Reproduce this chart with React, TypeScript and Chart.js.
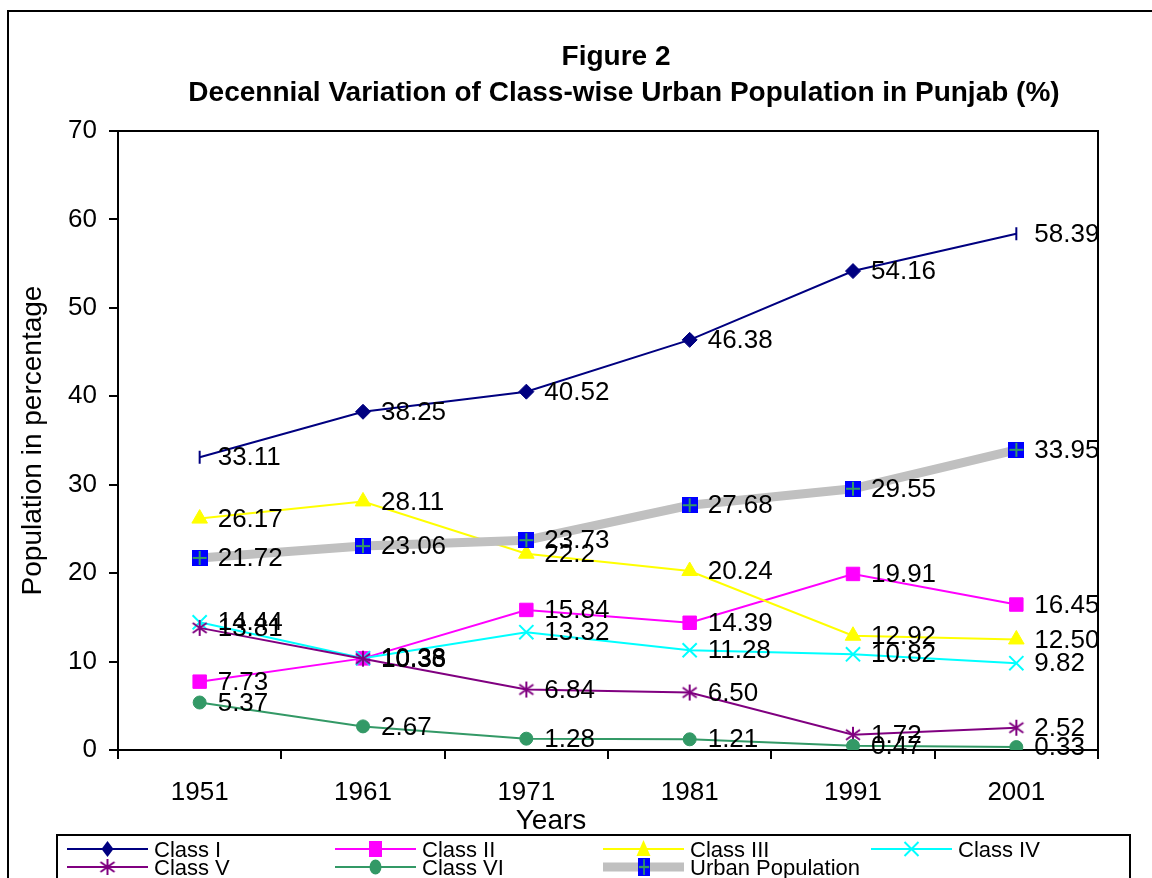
import React, { useEffect, useRef } from "react";
import { Chart, registerables } from "chart.js";

Chart.register(...registerables);

// ---------- data ----------
const years = ["1951", "1961", "1971", "1981", "1991", "2001"];
const classI = ["33.11", "38.25", "40.52", "46.38", "54.16", "58.39"];
const classII = ["7.73", "10.36", "15.84", "14.39", "19.91", "16.45"];
const classIII = ["26.17", "28.11", "22.2", "20.24", "12.92", "12.50"];
const classIV = ["14.44", "10.38", "13.32", "11.28", "10.82", "9.82"];
const classV = ["13.81", "10.33", "6.84", "6.50", "1.72", "2.52"];
const classVI = ["5.37", "2.67", "1.28", "1.21", "0.47", "0.33"];
const urban = ["21.72", "23.06", "23.73", "27.68", "29.55", "33.95"];
const seriesNames = ["Class I", "Class II", "Class III", "Class IV", "Class V", "Class VI", "Urban Population"];
const yMin = 0;
const yMax = 70;
const yStep = 10;
const titleLines = ["Figure 2", "Decennial Variation of Class-wise Urban Population in Punjab (%)"];
const xTitle = "Years";
const yTitle = "Population in percentage";

const FONT = "'Liberation Sans', Arial, Helvetica, sans-serif";

function makeMarker(size: number, draw: (ctx: CanvasRenderingContext2D, s: number) => void) {
  const c = document.createElement("canvas");
  c.width = size;
  c.height = size;
  const ctx = c.getContext("2d")!;
  draw(ctx, size);
  return c;
}

export default function App() {
  const ref = useRef<HTMLCanvasElement | null>(null);

  useEffect(() => {
    const canvas = ref.current;
    if (!canvas) return;

    const asterisk = makeMarker(18, (ctx) => {
      ctx.strokeStyle = "#800080";
      ctx.lineWidth = 2;
      ctx.beginPath();
      ctx.moveTo(9, 1);
      ctx.lineTo(9, 17);
      ctx.moveTo(2, 4);
      ctx.lineTo(16, 14);
      ctx.moveTo(2, 14);
      ctx.lineTo(16, 4);
      ctx.stroke();
    });
    const urbanMarker = makeMarker(16, (ctx) => {
      ctx.fillStyle = "#0000FF";
      ctx.fillRect(0, 0, 16, 16);
      ctx.strokeStyle = "#339966";
      ctx.lineWidth = 2;
      ctx.beginPath();
      ctx.moveTo(8, 1);
      ctx.lineTo(8, 15);
      ctx.moveTo(1, 8);
      ctx.lineTo(15, 8);
      ctx.stroke();
    });

    const raw = [classI, classII, classIII, classIV, classV, classVI, urban];
    const colors = ["#000080", "#FF00FF", "#FFFF00", "#00FFFF", "#800080", "#339966", "#C0C0C0"];
    const markerColors = ["#000080", "#FF00FF", "#FFFF00", "#00FFFF", "#800080", "#339966", "#0000FF"];

    const n = years.length;
    const datasets: any[] = [
      {
        pointStyle: years.map((_, i) => (i === 0 || i === n - 1 ? "line" : "rectRot")),
        pointRotation: years.map((_, i) => (i === 0 || i === n - 1 ? 90 : 0)),
        pointRadius: years.map((_, i) => (i === 0 || i === n - 1 ? 6.5 : 7.5)),
        pointBorderWidth: years.map((_, i) => (i === 0 || i === n - 1 ? 2 : 1)),
      },
      { pointStyle: "rect", pointRadius: 9.5, pointBorderWidth: 1 },
      { pointStyle: "triangle", pointRadius: 9, pointBorderWidth: 1 },
      { pointStyle: "crossRot", pointRadius: 10, pointBorderWidth: 2 },
      { pointStyle: asterisk, pointRadius: 9, pointBorderWidth: 1 },
      { pointStyle: "circle", pointRadius: 6.5, pointBorderWidth: 1 },
      { pointStyle: urbanMarker, pointRadius: 8, pointBorderWidth: 1 },
    ].map((d, i) => ({
      label: seriesNames[i],
      data: raw[i].map(Number),
      borderColor: colors[i],
      backgroundColor: colors[i],
      borderWidth: i === 6 ? 9 : 2,
      pointBackgroundColor: markerColors[i],
      pointBorderColor: markerColors[i],
      tension: 0,
      fill: false,
      order: 6 - i,
      ...d,
    }));

    const drawLegendMarker = (ctx: CanvasRenderingContext2D, idx: number, x: number, y: number) => {
      ctx.save();
      ctx.fillStyle = markerColors[idx];
      ctx.strokeStyle = markerColors[idx];
      ctx.lineWidth = 2;
      ctx.beginPath();
      switch (idx) {
        case 0:
          ctx.moveTo(x, y - 8);
          ctx.lineTo(x + 6, y);
          ctx.lineTo(x, y + 8);
          ctx.lineTo(x - 6, y);
          ctx.closePath();
          ctx.fill();
          break;
        case 1:
          ctx.fillRect(x - 6.5, y - 8, 13, 16);
          break;
        case 2:
          ctx.moveTo(x, y - 9);
          ctx.lineTo(x + 7, y + 7);
          ctx.lineTo(x - 7, y + 7);
          ctx.closePath();
          ctx.fill();
          break;
        case 3:
          ctx.moveTo(x - 7, y - 7);
          ctx.lineTo(x + 7, y + 7);
          ctx.moveTo(x - 7, y + 7);
          ctx.lineTo(x + 7, y - 7);
          ctx.stroke();
          break;
        case 4:
          ctx.drawImage(asterisk, x - 9, y - 9);
          break;
        case 5:
          ctx.ellipse(x, y, 6, 7.5, 0, 0, Math.PI * 2);
          ctx.fill();
          break;
        case 6:
          ctx.drawImage(urbanMarker, Math.round(x - 6), Math.round(y - 9), 12, 18);
          break;
      }
      ctx.restore();
    };

    const decor = {
      id: "decor",
      beforeDraw(chart: any) {
        const ctx = chart.ctx as CanvasRenderingContext2D;
        ctx.save();
        ctx.fillStyle = "#FFFFFF";
        ctx.fillRect(0, 0, chart.width, chart.height);
        ctx.restore();
      },
      afterDatasetsDraw(chart: any) {
        const ctx = chart.ctx as CanvasRenderingContext2D;
        const area = chart.chartArea;
        ctx.save();
        // plot area top / right border
        ctx.strokeStyle = "#000";
        ctx.lineWidth = 2;
        ctx.beginPath();
        ctx.moveTo(area.left, area.top);
        ctx.lineTo(area.right, area.top);
        ctx.lineTo(area.right, area.bottom);
        ctx.stroke();
        // data labels
        ctx.fillStyle = "#000";
        ctx.font = `26px ${FONT}`;
        ctx.textAlign = "left";
        ctx.textBaseline = "middle";
        chart.data.datasets.forEach((_: any, di: number) => {
          const meta = chart.getDatasetMeta(di);
          meta.data.forEach((pt: any, i: number) => {
            ctx.fillText(raw[di][i], pt.x + 18, pt.y + 1);
          });
        });
        ctx.restore();
      },
      afterDraw(chart: any) {
        const ctx = chart.ctx as CanvasRenderingContext2D;
        ctx.save();
        // outer border
        ctx.strokeStyle = "#000";
        ctx.lineWidth = 2;
        ctx.strokeRect(8, 11, 1300, 1000);
        // title
        ctx.fillStyle = "#000";
        ctx.textAlign = "center";
        ctx.textBaseline = "middle";
        ctx.font = `bold 28px ${FONT}`;
        ctx.fillText(titleLines[0], 616, 57);
        ctx.fillText(titleLines[1], 624, 93);
        // x title
        ctx.font = `28px ${FONT}`;
        ctx.fillText(xTitle, 551, 821);
        // legend box
        ctx.lineWidth = 2;
        ctx.strokeRect(57, 835, 1073, 100);
        const cols = [67, 335, 603, 871];
        const rows = [849, 867];
        ctx.font = `22px ${FONT}`;
        ctx.textAlign = "left";
        seriesNames.forEach((name, i) => {
          const x0 = cols[i % 4];
          const y = rows[Math.floor(i / 4)];
          ctx.strokeStyle = colors[i];
          ctx.lineWidth = i === 6 ? 9 : 2;
          ctx.beginPath();
          ctx.moveTo(x0, y);
          ctx.lineTo(x0 + 81, y);
          ctx.stroke();
          drawLegendMarker(ctx, i, x0 + 40.5, y);
          ctx.fillStyle = "#000";
          ctx.fillText(name, x0 + 87, y + 2);
        });
        ctx.restore();
      },
    };

    const chart = new Chart(canvas, {
      type: "line",
      data: { labels: years, datasets },
      options: {
        responsive: false,
        animation: false,
        devicePixelRatio: 1,
        layout: { padding: { top: 131, right: 54, left: 0, bottom: 48 } },
        plugins: {
          legend: { display: false },
          title: { display: false },
          tooltip: { enabled: false },
        },
        scales: {
          x: {
            type: "category",
            offset: true,
            grid: {
              offset: true,
              drawOnChartArea: false,
              drawTicks: true,
              tickLength: 9,
              color: "#000",
              lineWidth: 2,
            },
            border: { color: "#000", width: 2 },
            ticks: {
              color: "#000",
              font: { family: FONT, size: 26 },
              padding: 18,
              maxRotation: 0,
              autoSkip: false,
            },
            afterFit: (s: any) => {
              s.height = 80;
            },
          },
          y: {
            min: yMin,
            max: yMax,
            grid: {
              drawOnChartArea: false,
              drawTicks: true,
              tickLength: 9,
              color: "#000",
              lineWidth: 2,
            },
            border: { color: "#000", width: 2 },
            ticks: {
              stepSize: yStep,
              color: "#000",
              font: { family: FONT, size: 26 },
              padding: 12,
            },
            title: {
              display: true,
              text: yTitle,
              color: "#000",
              font: { family: FONT, size: 28 },
              padding: { top: 16, bottom: 0 },
            },
            afterFit: (s: any) => {
              s.width = 118;
            },
          },
        },
      } as any,
      plugins: [decor],
    });

    return () => chart.destroy();
  }, []);

  return (
    <div style={{ position: "fixed", left: 0, top: 0, width: 1152, height: 878, overflow: "hidden", background: "#fff" }}>
      <canvas ref={ref} width={1152} height={878} style={{ display: "block" }} />
    </div>
  );
}
